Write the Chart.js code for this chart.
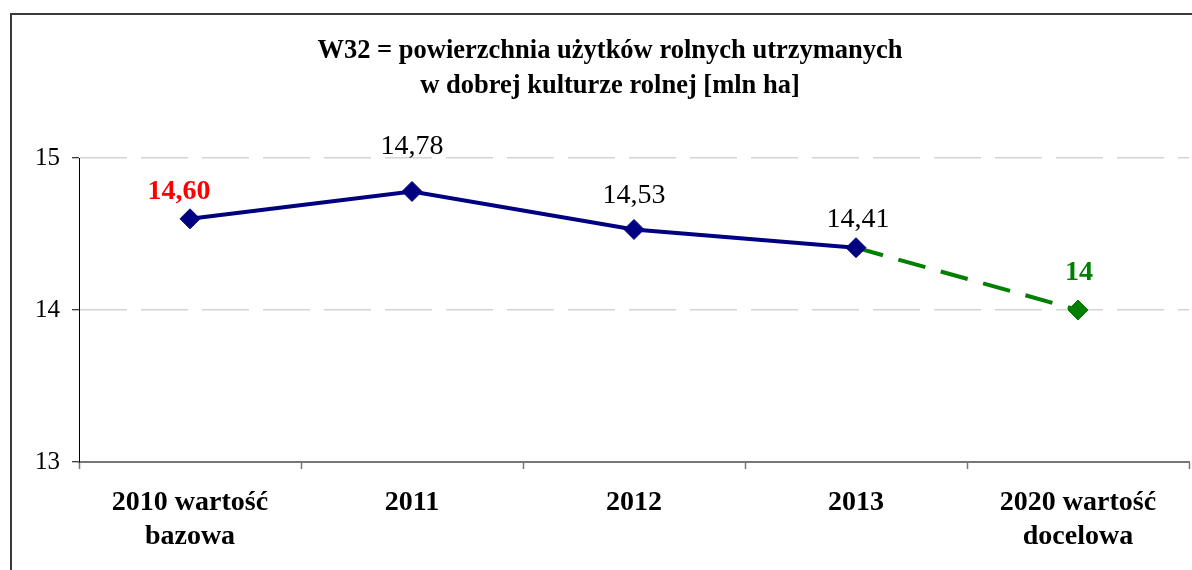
<!DOCTYPE html>
<html lang="pl">
<head>
<meta charset="utf-8">
<title>W32</title>
<script src="https://cdn.jsdelivr.net/npm/chart.js@4.4.1/dist/chart.umd.min.js"></script>
<style>
  html, body { margin: 0; padding: 0; background: #fff; overflow: hidden; }
  canvas { position: absolute; left: 0; top: 0; }
</style>
</head>
<body>
<canvas id="wykres" width="1192" height="570"></canvas>
<script>
// Dane
const kategorie = [
  ['2010 wartość', 'bazowa'],
  '2011',
  '2012',
  '2013',
  ['2020 wartość', 'docelowa']
];
const wartosci = [14.60, 14.78, 14.53, 14.41, null];
const cel = [null, null, null, 14.41, 14];
const etykiety = ['14,60', '14,78', '14,53', '14,41', '14'];
const tickiY = [13, 14, 15];

const FONT = "'Liberation Serif', 'Times New Roman', serif";

// Ramka wykresu (lewa i górna krawędź)
const ramkaPlugin = {
  id: 'ramka',
  beforeDraw(chart) {
    const c = chart.ctx;
    c.save();
    c.strokeStyle = '#3a3a3a';
    c.lineWidth = 2;
    c.beginPath();
    c.moveTo(11, chart.height);
    c.lineTo(11, 14);
    c.lineTo(chart.width, 14);
    c.stroke();
    c.restore();
  }
};

// Etykiety nad punktami
const etykietyPlugin = {
  id: 'etykiety',
  afterDatasetsDraw(chart, args, opts) {
    const ctx = chart.ctx;
    const meta0 = chart.getDatasetMeta(0);
    const meta1 = chart.getDatasetMeta(1);
    ctx.save();
    ctx.textAlign = 'center';
    ctx.textBaseline = 'alphabetic';
    etykiety.forEach((txt, i) => {
      const el = (wartosci[i] != null ? meta0 : meta1).data[i];
      if (!el) return;
      const st = opts.style[i];
      ctx.font = st.font;
      ctx.fillStyle = st.color;
      ctx.fillText(txt, el.x + st.dx, el.y + st.dy);
    });
    ctx.restore();
  }
};

const ctx = document.getElementById('wykres').getContext('2d');
new Chart(ctx, {
  type: 'line',
  data: {
    labels: kategorie,
    datasets: [
      {
        data: wartosci,
        borderColor: '#000080',
        backgroundColor: '#000080',
        borderWidth: 4,
        pointStyle: 'rectRot',
        pointRadius: 10,
        pointBorderWidth: 1,
        pointBackgroundColor: '#000080',
        pointBorderColor: '#000080',
        tension: 0,
        spanGaps: false
      },
      {
        data: cel,
        borderColor: '#008000',
        backgroundColor: '#008000',
        borderWidth: 4,
        borderDash: [28, 16],
        pointStyle: 'rectRot',
        pointRadius: [0, 0, 0, 0, 10],
        pointBorderWidth: 1,
        pointBackgroundColor: '#008000',
        pointBorderColor: '#008000',
        tension: 0
      }
    ]
  },
  options: {
    responsive: false,
    animation: false,
    devicePixelRatio: 1,
    layout: { autoPadding: false, padding: { left: 31, right: 3, top: 0, bottom: 0 } },
    plugins: {
      legend: { display: false },
      tooltip: { enabled: false },
      title: {
        display: true,
        text: ['W32 = powierzchnia użytków rolnych utrzymanych', 'w dobrej kulturze rolnej [mln ha]'],
        color: '#000',
        font: { family: FONT, size: 26.5, weight: 'bold', lineHeight: 1.34 },
        padding: { top: 33, bottom: 54 }
      },
      etykiety: {
        style: [
          { font: "bold 28px " + FONT, color: '#ff0000', dx: -11, dy: -20 },
          { font: "28px " + FONT, color: '#000', dx: 0, dy: -37 },
          { font: "28px " + FONT, color: '#000', dx: 0, dy: -26 },
          { font: "28px " + FONT, color: '#000', dx: 2, dy: -21 },
          { font: "bold 28px " + FONT, color: '#008000', dx: 1, dy: -30 }
        ]
      }
    },
    scales: {
      x: {
        offset: true,
        grid: {
          offset: true,
          drawOnChartArea: false,
          drawTicks: true,
          tickLength: 7,
          tickColor: '#777',
          tickWidth: 1.5
        },
        border: { display: true, color: '#777', width: 2 },
        ticks: {
          color: '#000',
          padding: 17,
          maxRotation: 0,
          autoSkip: false,
          font: { family: FONT, size: 28, weight: 'bold', lineHeight: 1.2 }
        },
        afterFit(scale) { scale.height = 108; }
      },
      y: {
        min: tickiY[0],
        max: tickiY[tickiY.length - 1],
        afterBuildTicks(scale) { scale.ticks = tickiY.map(v => ({ value: v })); },
        grid: {
          color: '#d4d4d4',
          lineWidth: 1.5,
          tickLength: 7,
          tickColor: '#000',
          tickWidth: 1
        },
        border: { display: true, color: '#000', width: 1, dash: [47, 14] },
        ticks: {
          color: '#000',
          padding: 12,
          font: { family: FONT, size: 25 }
        },
        afterFit(scale) { scale.width = 48; }
      }
    }
  },
  plugins: [ramkaPlugin, etykietyPlugin]
});
</script>
</body>
</html>
